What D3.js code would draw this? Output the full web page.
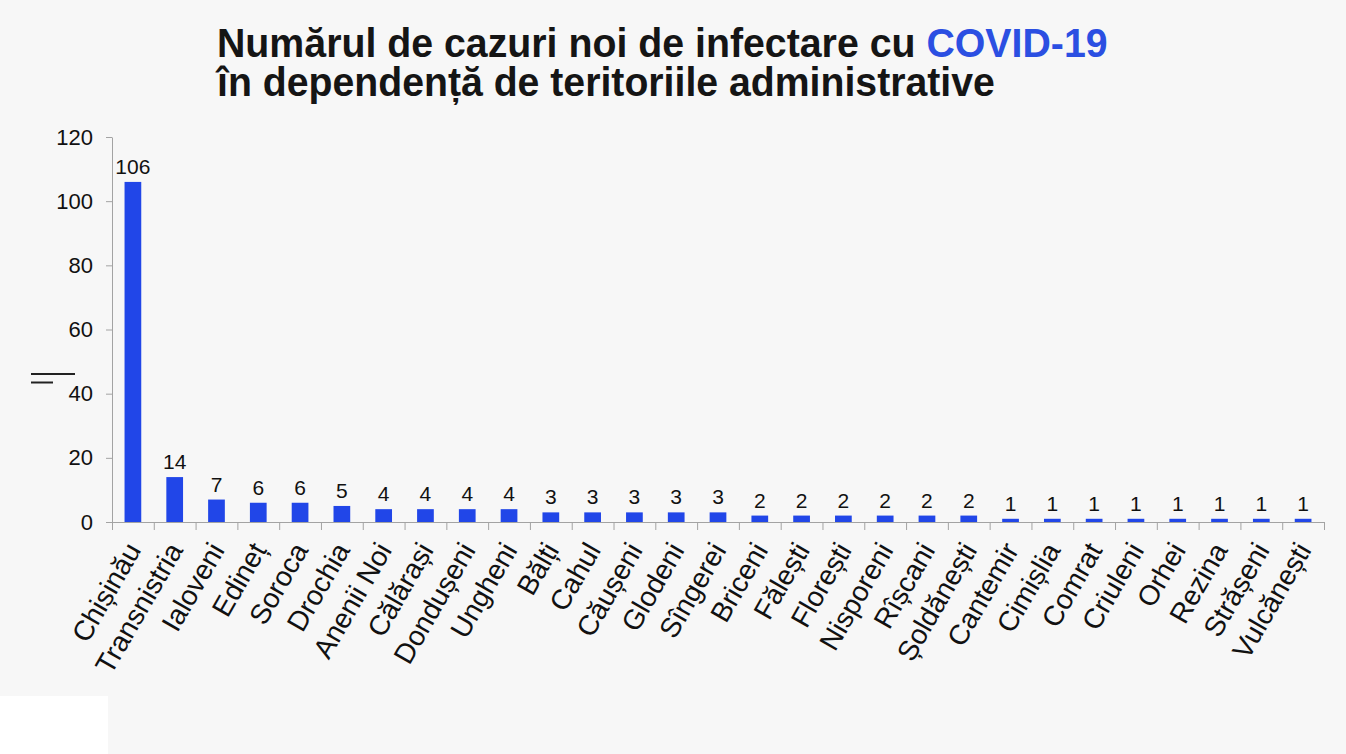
<!DOCTYPE html>
<html>
<head>
<meta charset="utf-8">
<script src="https://cdn.jsdelivr.net/npm/d3@7"></script>
<style>
  body { margin: 0; background: #f7f7f7; }
  svg { display: block; font-family: "Liberation Sans", Arial, sans-serif; }
</style>
</head>
<body>
<svg id="chart" width="1346" height="754"></svg>
<script>
// data
const districts = ["Chișinău", "Transnistria", "Ialoveni", "Edineț", "Soroca", "Drochia", "Anenii Noi",
  "Călărași", "Dondușeni", "Ungheni", "Bălți", "Cahul", "Căușeni", "Glodeni", "Sîngerei", "Briceni",
  "Fălești", "Florești", "Nisporeni", "Rîșcani", "Șoldănești", "Cantemir", "Cimișlia", "Comrat",
  "Criuleni", "Orhei", "Rezina", "Strășeni", "Vulcănești"];
const cases = [106, 14, 7, 6, 6, 5, 4, 4, 4, 4, 3, 3, 3, 3, 3, 2, 2, 2, 2, 2, 2, 1, 1, 1, 1, 1, 1, 1, 1];
const yTicks = [0, 20, 40, 60, 80, 100, 120];

const svg = d3.select("#chart");

// background + white patch in the lower left corner
svg.append("rect").attr("width", 1346).attr("height", 754).attr("fill", "#f7f7f7");
svg.append("rect").attr("x", 0).attr("y", 696).attr("width", 108).attr("height", 58).attr("fill", "#ffffff");

// title, squeezed horizontally to the reference width
function titleLine(parts, baseline, left, targetW) {
  const t = svg.append("text")
    .attr("font-size", 41).attr("font-weight", "bold").attr("fill", "#151515");
  parts.forEach(p => t.append("tspan").attr("fill", p.c || "#151515").text(p.t));
  const w = t.node().getComputedTextLength();
  t.attr("transform", "translate(" + left + "," + baseline + ") scale(" + (targetW / w) + ",1)");
}
titleLine([{t: "Numărul de cazuri noi de infectare cu "}, {t: "COVID-19", c: "#2b4fe2"}], 57, 217, 891);
titleLine([{t: "în dependență de teritoriile administrative"}], 96, 217, 778);

const margin = {left: 112, top: 137, right: 1324, bottom: 522};

const x = d3.scaleBand().domain(districts).range([margin.left, margin.right]);
const xEdge = d3.scaleLinear().domain([0, districts.length]).range([margin.left, margin.right]);
const y = d3.scaleLinear().domain([0, 120]).range([margin.bottom, margin.top]);

// y axis
const gy = svg.append("g")
  .attr("transform", "translate(" + margin.left + ",0)")
  .call(d3.axisLeft(y).tickValues(yTicks).tickSize(6).tickSizeOuter(0).tickPadding(13));
gy.select(".domain").attr("stroke", "#a3a3a3");
gy.selectAll(".tick line").attr("stroke", "#a3a3a3");
gy.selectAll(".tick text").attr("font-size", 22).attr("fill", "#111")
  .attr("font-family", "'Liberation Sans', Arial, sans-serif");

// x axis with ticks between categories
const gx = svg.append("g")
  .attr("transform", "translate(0," + margin.bottom + ")")
  .call(d3.axisBottom(xEdge).tickValues(d3.range(districts.length + 1)).tickFormat("").tickSize(8).tickSizeOuter(0));
gx.select(".domain").attr("stroke", "#a3a3a3");
gx.selectAll(".tick line").attr("stroke", "#a3a3a3");

// bars
const barW = x.bandwidth() * 0.4;
svg.append("g").selectAll("rect")
  .data(cases)
  .join("rect")
  .attr("x", (d, i) => x(districts[i]) + x.bandwidth() / 2 - barW / 2)
  .attr("y", d => y(d))
  .attr("width", barW)
  .attr("height", d => y(0) - y(d))
  .attr("fill", "#2146e8");

// value labels
svg.append("g").selectAll("text")
  .data(cases)
  .join("text")
  .attr("x", (d, i) => x(districts[i]) + x.bandwidth() / 2)
  .attr("y", d => y(d) - 8)
  .attr("text-anchor", "middle")
  .attr("font-size", 21)
  .attr("fill", "#111")
  .text(d => d);

// rotated category labels
svg.append("g").selectAll("text")
  .data(districts)
  .join("text")
  .attr("transform", d => "translate(" + (x(d) + x.bandwidth() / 2 + 9) + ",550) rotate(-60)")
  .attr("text-anchor", "end")
  .attr("font-size", 28)
  .attr("fill", "#111")
  .text(d => d);

// stray mark left of the y axis
svg.append("line").attr("x1", 31).attr("x2", 75).attr("y1", 374).attr("y2", 374)
  .attr("stroke", "#222").attr("stroke-width", 2);
svg.append("line").attr("x1", 31).attr("x2", 53).attr("y1", 382.5).attr("y2", 382.5)
  .attr("stroke", "#222").attr("stroke-width", 2);
</script>
</body>
</html>
